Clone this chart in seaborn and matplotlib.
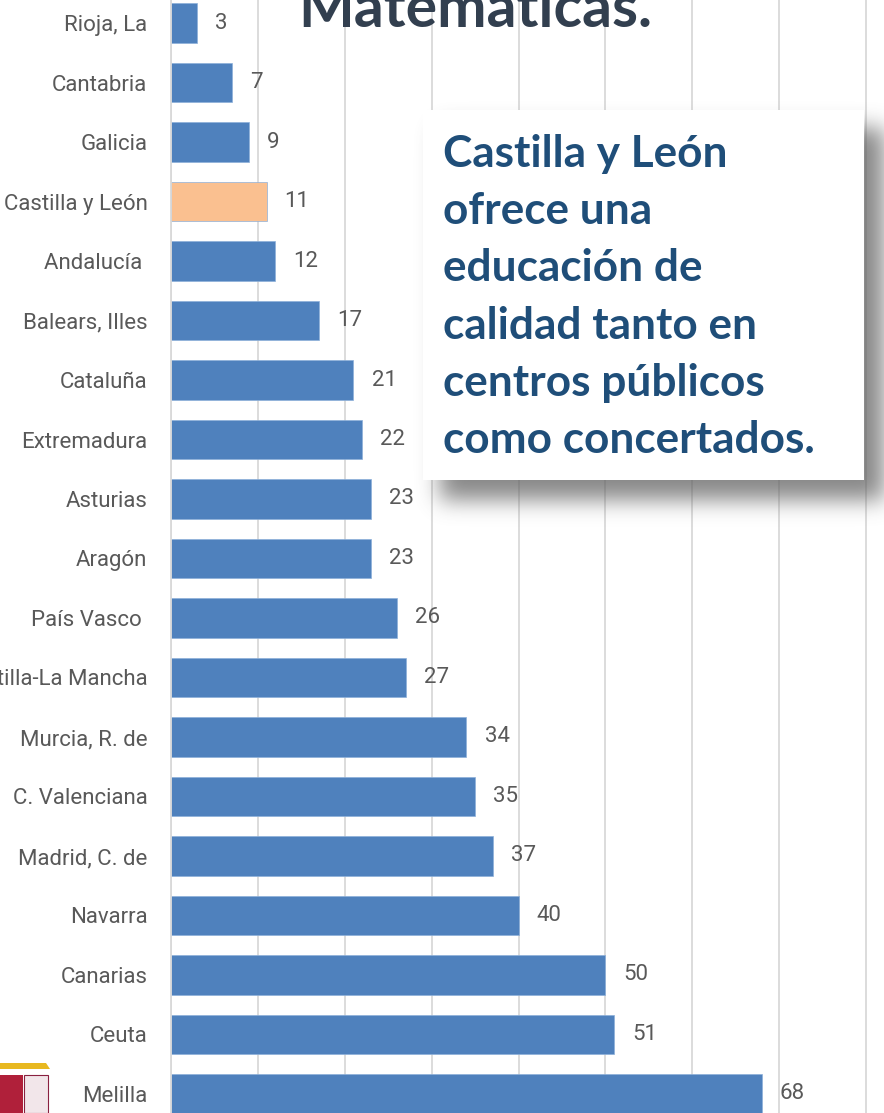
import numpy as np
import seaborn as sns
import matplotlib.pyplot as plt
from matplotlib.patches import Rectangle, Polygon

# data
regions = ["Rioja, La", "Cantabria", "Galicia", "Castilla y León", "Andalucía ",
           "Balears, Illes", "Cataluña", "Extremadura", "Asturias", "Aragón",
           "País Vasco ", "Castilla-La Mancha", "Murcia, R. de", "C. Valenciana",
           "Madrid, C. de", "Navarra", "Canarias", "Ceuta", "Melilla"]
values = [3, 7, 9, 11, 12, 17, 21, 22, 23, 23, 26, 27, 34, 35, 37, 40, 50, 51, 68]
highlight = "Castilla y León"

box_lines = ["Castilla y León", "ofrece una", "educación de",
             "calidad tanto en", "centros públicos", "como concertados."]

W, H = 884, 1113
blue = "#4F81BD"
peach = "#FAC090"
grey_txt = "#595959"

sns.set_style("white")
plt.rcParams["font.family"] = ["DejaVu Sans Condensed", "Roboto", "DejaVu Sans"]

fig = plt.figure(figsize=(W / 100, H / 100), dpi=100)
ax = fig.add_axes([171 / W, 0, 713 / W, 1])

colors = [peach if r == highlight else blue for r in regions]
sns.barplot(x=values, y=regions, hue=regions, palette=colors, legend=False,
            orient="h", width=0.67, saturation=1, edgecolor="#8DB0DA",
            linewidth=0.5, ax=ax)

for c in ax.containers:
    ax.bar_label(c, padding=13, fontsize=16, color=grey_txt)

ax.set_xlim(0, 82.05)
ax.set_ylim(18.32, -0.387)
ax.set_xticks(range(0, 90, 10))
ax.set_xticklabels([])
ax.xaxis.grid(True, color="#D9D9D9", lw=1.3)
ax.set_axisbelow(True)
ax.set_xlabel("")
ax.set_ylabel("")
ax.tick_params(axis="y", length=0, pad=17, labelsize=16, labelcolor=grey_txt)
ax.tick_params(axis="x", length=0)
for s in ["top", "right", "bottom"]:
    ax.spines[s].set_visible(False)
ax.spines["left"].set_color("#D9D9D9")
ax.spines["left"].set_linewidth(1.3)

# title, cut off at top
fig.text(298 / W, 1 - 27 / H, "Matemáticas.", fontsize=42.5, fontweight="bold",
         family=["Lato", "DejaVu Sans"], color="#323F4F", va="baseline", ha="left", zorder=8)

# soft shadow behind the text box
mask = np.zeros((H, W))
mask[128:500, 440:884] = 1.0
k = np.exp(-0.5 * (np.arange(-30, 31) / 11.0) ** 2)
k /= k.sum()
mask = np.apply_along_axis(lambda r: np.convolve(r, k, mode="same"), 1, mask)
mask = np.apply_along_axis(lambda c: np.convolve(c, k, mode="same"), 0, mask)
shadow = np.zeros((H, W, 4))
shadow[..., :3] = 0.38
shadow[..., 3] = mask * 0.75
fig.figimage(shadow, xo=0, yo=0, origin="upper", zorder=5)

fig.patches.append(Rectangle((423 / W, 1 - 480 / H), 441 / W, 370 / H,
                             transform=fig.transFigure, facecolor="white",
                             edgecolor="none", zorder=6))
for i, line in enumerate(box_lines):
    fig.text(443 / W, 1 - (167 + 57.2 * i) / H, line, fontsize=31.8, fontweight="bold",
             family=["Lato", "DejaVu Sans"], color="#1F4E79", va="baseline", ha="left", zorder=7)

# small coat of arms in the bottom-left corner
fig.patches.append(Polygon([(0, 50 / H), (46 / W, 50 / H), (50 / W, 44 / H), (0, 44 / H)],
                           closed=True, transform=fig.transFigure, facecolor="#E8B820",
                           edgecolor="none", zorder=6))
fig.patches.append(Rectangle((0, 0), 23 / W, 38 / H, transform=fig.transFigure,
                             facecolor="#B0203A", edgecolor="none", zorder=6))
fig.patches.append(Rectangle((24 / W, 0), 24 / W, 38 / H, transform=fig.transFigure,
                             facecolor="#F2E6EA", edgecolor="#8A2040", lw=0.8, zorder=6))

fig.savefig("out.png", dpi=100)
